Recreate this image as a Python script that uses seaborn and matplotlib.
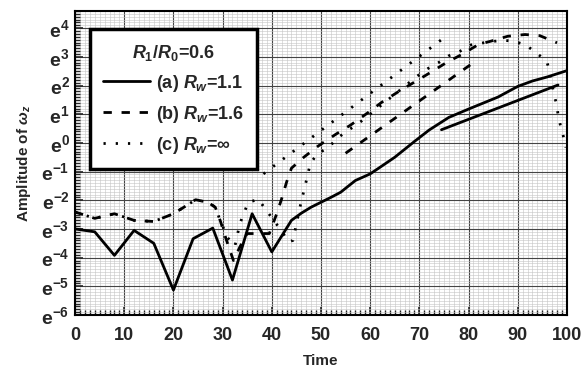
import matplotlib
matplotlib.use("Agg")
from matplotlib import pyplot as plt
from matplotlib.ticker import MultipleLocator
from matplotlib.lines import Line2D
import seaborn as sns
import pandas as pd

# (a) R_w=1.1, solid
t_a = [0, 4, 8, 12, 16, 20, 24, 28, 32, 36, 40, 44, 46, 48, 52, 54, 57, 60, 62,
       65, 69, 72, 76, 80, 86, 90, 93, 96, 100]
v_a = [-3.0, -3.1, -3.92, -3.05, -3.5, -5.13, -3.34, -2.97, -4.78, -2.47, -3.8,
       -2.7, -2.45, -2.24, -1.9, -1.72, -1.31, -1.08, -0.85, -0.5, 0.05, 0.45,
       0.89, 1.18, 1.6, 1.97, 2.16, 2.3, 2.52]
ref_t_a = [74.5, 98.2]
ref_v_a = [0.46, 2.02]

# (b) R_w=1.6, dashed
t_b = [0, 4, 8, 12, 16, 20, 22.7, 24.5, 27, 28.5, 29.5, 30.8, 32.2, 33.5, 35,
       39.5, 41, 42, 43, 44, 46.5, 49.5, 53, 56, 59.6, 62.3, 65.4, 68.8, 72.2,
       75.5, 78.6, 82, 85, 88, 91.5, 94.5, 98]
v_b = [-2.41, -2.63, -2.47, -2.7, -2.74, -2.47, -2.18, -1.98, -2.07, -2.24, -2.7,
       -3.4, -4.1, -3.63, -3.16, -3.16, -2.47, -1.95, -1.37, -0.88, -0.5, -0.1,
       0.3, 0.62, 1.06, 1.41, 1.75, 2.1, 2.45, 2.8, 3.08, 3.43, 3.57, 3.72, 3.78,
       3.74, 3.49]
ref_t_b = [55, 81]
ref_v_b = [-0.36, 2.8]

# (c) R_w=inf, dotted
t_c = [0, 4, 8, 12, 16, 20, 22.7, 24.5, 27, 28.5, 29.5, 31, 32.5, 33.5, 35.2,
       37.3, 38.8, 41.9, 43.4, 44.3, 44.8, 45.7, 46.2, 47.3, 47.8, 49.2, 51.5,
       53.5, 55.9, 58.3, 62.5, 67, 69.1, 71.5, 73.9, 75.9, 78.3, 80.3, 84, 87,
       89, 91.5, 93.5, 95.9, 96.5, 97.3, 97.9, 98.2, 98.7, 99.3, 99.8]
v_c = [-2.41, -2.63, -2.47, -2.7, -2.74, -2.47, -2.18, -1.98, -2.07, -2.24, -2.7,
       -3.3, -3.6, -2.82, -2.07, -1.97, -2.33, -3.05, -3.45, -3.4, -3.0, -2.26,
       -1.9, -1.12, -0.73, -0.39, -0.16, 0.19, 0.48, 0.77, 1.35, 1.97, 2.27, 2.57,
       2.8, 3.03, 3.2, 3.41, 3.52, 3.58, 3.55, 3.43, 3.18, 2.85, 2.5, 1.75, 1.35,
       1.0, 0.6, 0.22, -0.16]
ref_t_c = [38.3, 75.9]
ref_v_c = [-1.08, 3.78]

y_ticks = list(range(-6, 5))

sns.set_style("white")
plt.rcParams['font.family'] = ['Liberation Sans', 'DejaVu Sans']
plt.rcParams['font.weight'] = 'bold'
plt.rcParams['mathtext.fontset'] = 'custom'
plt.rcParams['mathtext.rm'] = 'Liberation Sans:bold'
plt.rcParams['mathtext.it'] = 'Liberation Sans:bold:italic'
plt.rcParams['mathtext.bf'] = 'Liberation Sans:bold'

fig = plt.figure(figsize=(5.82, 3.73), dpi=100)
ax = fig.add_axes([0.129, 0.1555, 0.845, 0.815])

styles = {
    'a': dict(color='black', lw=2.0, linestyle='-'),
    'b': dict(color='black', lw=2.0, linestyle=(0, (3, 3.5))),
    'c': dict(color='black', lw=2.0, linestyle=(0, (0.8, 3.6))),
}

series = [
    ('a', t_a, v_a, ref_t_a, ref_v_a),
    ('b', t_b, v_b, ref_t_b, ref_v_b),
    ('c', t_c, v_c, ref_t_c, ref_v_c),
]
for key, t, v, rt, rv in series:
    df = pd.DataFrame({'t': t, 'v': v})
    sns.lineplot(data=df, x='t', y='v', ax=ax, **styles[key])
    dr = pd.DataFrame({'t': rt, 'v': rv})
    sns.lineplot(data=dr, x='t', y='v', ax=ax, **styles[key])

ax.set_xlim(0, 100)
ax.set_ylim(-6, 4.6)
ax.xaxis.set_major_locator(MultipleLocator(10))
ax.xaxis.set_minor_locator(MultipleLocator(1))
ax.yaxis.set_major_locator(MultipleLocator(1))
ax.yaxis.set_minor_locator(MultipleLocator(0.1))
ax.set_yticks(y_ticks)
ax.set_yticklabels([r'$\mathrm{e}^{%d}$' % k for k in y_ticks])

ax.grid(which='major', color='#444444', lw=0.8)
ax.grid(which='minor', color='#c4c4c4', lw=0.4)
ax.set_axisbelow(True)

ax.tick_params(which='both', direction='in', top=False, right=False,
               bottom=True, left=True)
ax.tick_params(which='major', length=6, width=1.2, labelsize=13, pad=9)
ax.tick_params(which='minor', length=3.5, width=1.0)
ax.tick_params(axis='y', which='major', labelsize=14, pad=4)
for s in ax.spines.values():
    s.set_linewidth(1.5)
    s.set_color('black')

ax.set_xlabel('Time', fontsize=11, fontweight='bold', labelpad=7)
ax.set_ylabel(r'Amplitude of $\omega_z$', fontsize=11, fontweight='bold', labelpad=6)

handles = [Line2D([], [], **styles[k]) for k in ['a', 'b', 'c']]
labels = [r'(a) $R_w$=1.1', r'(b) $R_w$=1.6', r'(c) $R_w$=∞']
leg = ax.legend(handles, labels, title=r'$R_1/R_0$=0.6', loc='upper left',
                bbox_to_anchor=(0.03, 0.94), borderaxespad=0, fancybox=False,
                framealpha=1, edgecolor='black', fontsize=13, title_fontsize=13,
                handlelength=2.6, handletextpad=0.3, labelspacing=0.55,
                borderpad=0.75)
leg.get_frame().set_linewidth(2.5)

fig.savefig('out.png', dpi=100)
